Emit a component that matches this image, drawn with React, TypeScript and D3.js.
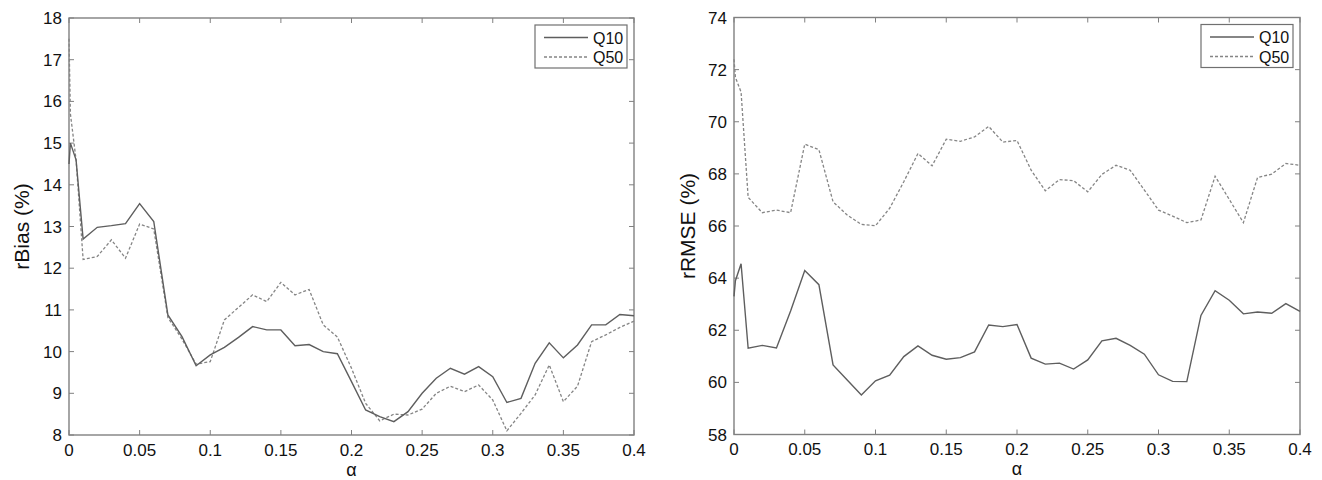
import React from "react";
import * as d3 from "d3";

// alpha grid (first few points are the very small alphas near 0)
const alphas = [
  0, 0.001, 0.005, 0.01, 0.02, 0.03, 0.04, 0.05, 0.06, 0.07, 0.08, 0.09, 0.1,
  0.11, 0.12, 0.13, 0.14, 0.15, 0.16, 0.17, 0.18, 0.19, 0.2, 0.21, 0.22, 0.23,
  0.24, 0.25, 0.26, 0.27, 0.28, 0.29, 0.3, 0.31, 0.32, 0.33, 0.34, 0.35, 0.36,
  0.37, 0.38, 0.39, 0.4,
];

const biasQ10 = [
  14.5, 15.0, 14.6, 12.7, 12.98, 13.02, 13.07, 13.55, 13.12, 10.88, 10.36, 9.66,
  9.92, 10.1, 10.34, 10.6, 10.52, 10.52, 10.14, 10.17, 10.0, 9.95, 9.28, 8.6,
  8.44, 8.32, 8.56, 9.0, 9.36, 9.6, 9.46, 9.64, 9.4, 8.78, 8.88, 9.72, 10.21,
  9.85, 10.16, 10.64, 10.64, 10.89, 10.86,
];
const biasQ50 = [
  17.5, 15.7, 14.6, 12.21, 12.28, 12.68, 12.24, 13.06, 12.94, 10.82, 10.3, 9.7,
  9.76, 10.76, 11.06, 11.36, 11.2, 11.66, 11.36, 11.49, 10.64, 10.35, 9.6, 8.76,
  8.34, 8.5, 8.48, 8.62, 9.0, 9.17, 9.04, 9.2, 8.84, 8.1, 8.52, 8.96, 9.68, 8.8,
  9.17, 10.24, 10.4, 10.58, 10.73,
];
const rmseQ10 = [
  63.3, 63.9, 64.55, 61.31, 61.42, 61.32, 62.74, 64.29, 63.75, 60.67, 60.09,
  59.52, 60.06, 60.28, 60.99, 61.4, 61.04, 60.89, 60.95, 61.17, 62.2, 62.14,
  62.22, 60.93, 60.7, 60.74, 60.51, 60.86, 61.59, 61.69, 61.42, 61.08, 60.29,
  60.04, 60.03, 62.57, 63.52, 63.15, 62.63, 62.7, 62.65, 63.02, 62.72,
];
const rmseQ50 = [
  72.4, 71.7, 71.14, 67.1, 66.51, 66.61, 66.51, 69.14, 68.93, 66.93, 66.42,
  66.06, 66.01, 66.68, 67.7, 68.78, 68.31, 69.33, 69.25, 69.42, 69.82, 69.22,
  69.28, 68.14, 67.35, 67.78, 67.74, 67.31, 67.98, 68.33, 68.14, 67.38, 66.61,
  66.38, 66.13, 66.23, 67.91, 67.02, 66.13, 67.86, 67.99, 68.4, 68.33,
];

const xTicks = [0, 0.05, 0.1, 0.15, 0.2, 0.25, 0.3, 0.35, 0.4];
const biasTicks = [8, 9, 10, 11, 12, 13, 14, 15, 16, 17, 18];
const rmseTicks = [58, 60, 62, 64, 66, 68, 70, 72, 74];
const seriesNames = ["Q10", "Q50"];

const FONT = "'Liberation Sans', Arial, Helvetica, sans-serif";
const AXIS = "#808080";

function Panel({ box, yDomain, yTicks, yLabel, q10, q50, labelX }) {
  const x = d3.scaleLinear().domain([0, 0.4]).range([box.x0, box.x1]);
  const y = d3.scaleLinear().domain(yDomain).range([box.y1, box.y0]);
  const line = d3
    .line<number>()
    .x((_, i) => x(alphas[i]))
    .y((d) => y(d));
  const tk = 5;
  const lgW = 92;
  const lgH = 43;
  const lgX = box.x1 - 7 - lgW;
  const lgY = box.y0 + 7;
  return (
    <g fontFamily={FONT}>
      <rect
        x={box.x0}
        y={box.y0}
        width={box.x1 - box.x0}
        height={box.y1 - box.y0}
        fill="white"
        stroke={AXIS}
        strokeWidth={1.4}
      />
      {xTicks.map((t) => (
        <g key={"x" + t}>
          <line x1={x(t)} x2={x(t)} y1={box.y1} y2={box.y1 - tk} stroke={AXIS} />
          <line x1={x(t)} x2={x(t)} y1={box.y0} y2={box.y0 + tk} stroke={AXIS} />
          <text x={x(t)} y={box.y1 + 20.5} textAnchor="middle" fontSize={17} fill="#111">
            {String(t)}
          </text>
        </g>
      ))}
      {yTicks.map((t) => (
        <g key={"y" + t}>
          <line x1={box.x0} x2={box.x0 + tk} y1={y(t)} y2={y(t)} stroke={AXIS} />
          <line x1={box.x1} x2={box.x1 - tk} y1={y(t)} y2={y(t)} stroke={AXIS} />
          <text x={box.x0 - 7} y={y(t) + 6} textAnchor="end" fontSize={17} fill="#111">
            {t}
          </text>
        </g>
      ))}
      <path d={line(q50) || ""} fill="none" stroke="#858585" strokeWidth={1.3} strokeDasharray="3,2" />
      <path d={line(q10) || ""} fill="none" stroke="#5e5e5e" strokeWidth={1.4} />
      <text
        transform={`translate(${labelX},${(box.y0 + box.y1) / 2}) rotate(-90)`}
        textAnchor="middle"
        fontSize={21}
        fill="#111"
      >
        {yLabel}
      </text>
      <text x={(box.x0 + box.x1) / 2} y={box.y1 + 40.5} textAnchor="middle" fontSize={18} fill="#111">
        α
      </text>
      <rect x={lgX} y={lgY} width={lgW} height={lgH} fill="white" stroke="#707070" strokeWidth={1.2} />
      {seriesNames.map((name, i) => (
        <g key={name}>
          <line
            x1={lgX + 9}
            x2={lgX + 53}
            y1={lgY + 12.5 + i * 19.5}
            y2={lgY + 12.5 + i * 19.5}
            stroke={i === 0 ? "#5e5e5e" : "#858585"}
            strokeWidth={1.3}
            strokeDasharray={i === 0 ? undefined : "3,2"}
          />
          <text x={lgX + 58} y={lgY + 18.5 + i * 19.5} fontSize={16} fill="#111">
            {name}
          </text>
        </g>
      ))}
    </g>
  );
}

export default function App() {
  return (
    <svg
      width={1322}
      height={480}
      style={{ position: "absolute", left: 0, top: 0, background: "white" }}
    >
      <rect width={1322} height={480} fill="white" />
      <Panel
        box={{ x0: 69, x1: 634, y0: 18, y1: 435 }}
        yDomain={[8, 18]}
        yTicks={biasTicks}
        yLabel="rBias (%)"
        q10={biasQ10}
        q50={biasQ50}
        labelX={29}
      />
      <Panel
        box={{ x0: 734, x1: 1300, y0: 17.5, y1: 434.5 }}
        yDomain={[58, 74]}
        yTicks={rmseTicks}
        yLabel="rRMSE (%)"
        q10={rmseQ10}
        q50={rmseQ50}
        labelX={695}
      />
    </svg>
  );
}
